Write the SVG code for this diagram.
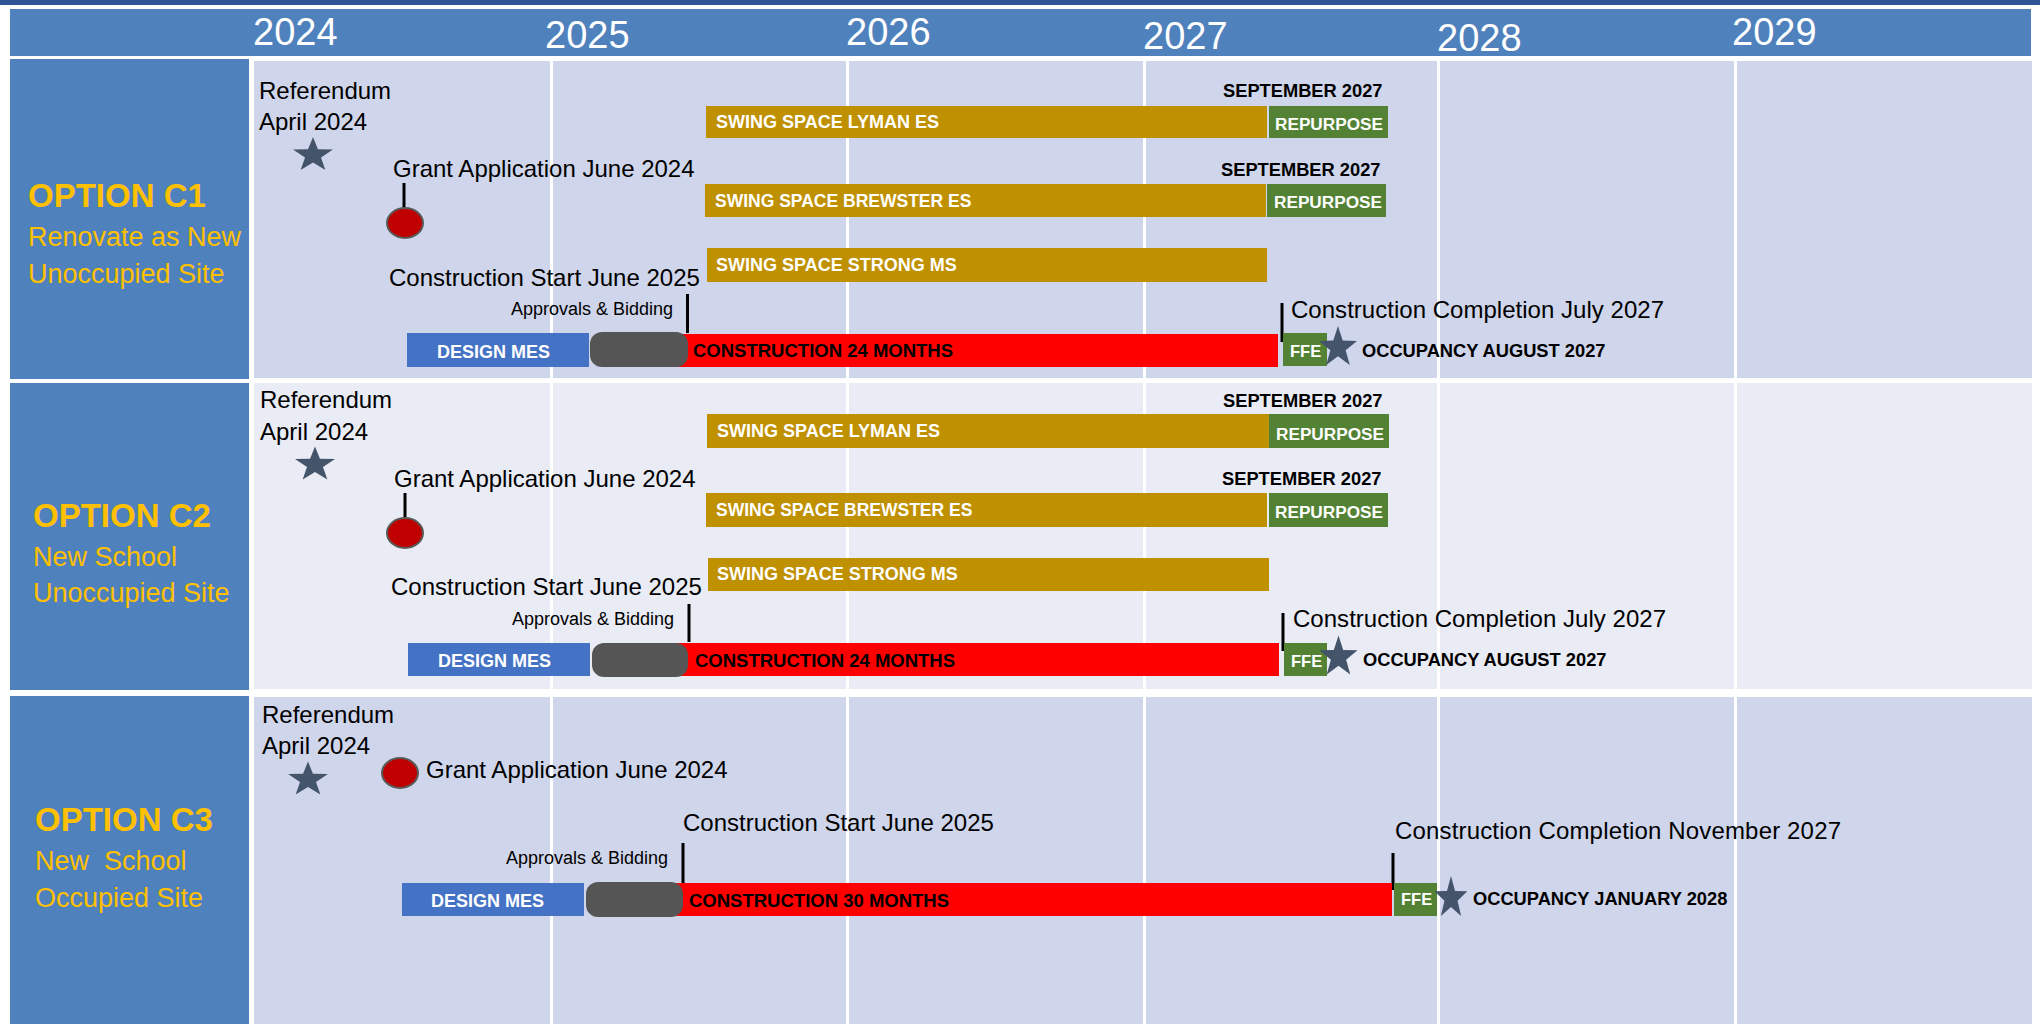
<svg xmlns="http://www.w3.org/2000/svg" width="2040" height="1024" viewBox="0 0 2040 1024">
<style>
text{font-family:"Liberation Sans",Arial,sans-serif}
.yr{font-size:38px;fill:#fff}
.opt{font-size:33px;font-weight:bold;fill:#FFC000}
.sub{font-size:27px;fill:#FFC000}
.lbl{font-size:24px;fill:#000}
.sm{font-size:18px;fill:#000}
.bw{font-size:18px;font-weight:bold;fill:#fff}
.rp{font-size:17.2px;font-weight:bold;fill:#fff}
.ffe{font-size:16.5px;font-weight:bold;fill:#fff}
.bk{font-size:18.3px;font-weight:bold;fill:#000}
.side{fill:#4F81BD}
.pa{fill:#CFD5EA}
.pb{fill:#E9EBF5}
.gold{fill:#BF9000}
.grn{fill:#548235}
.red{fill:#FF0000}
.des{fill:#4472C4}
.gray{fill:#555555}
.star{fill:#44546A}
.circ{fill:#C00000;stroke:#595959;stroke-width:2}
.tick{stroke:#000;stroke-width:3}
.grid{stroke:#fff;stroke-width:3}
</style>
<defs>
<path id="star" d="M0,-20 L4.70,-6.47 L19.02,-6.18 L7.61,2.47 L11.76,16.18 L0,8 L-11.76,16.18 L-7.61,2.47 L-19.02,-6.18 L-4.70,-6.47 Z"/>
</defs>
<rect x="0" y="0" width="2040" height="1024" fill="#fff"/>
<rect x="0" y="0" width="2040" height="5" fill="#2F5597"/>
<g id="header">
<rect x="10" y="9" width="2021" height="47" class="side"/>
<text class="yr" x="253" y="45">2024</text>
<text class="yr" x="545" y="48">2025</text>
<text class="yr" x="846" y="45">2026</text>
<text class="yr" x="1143" y="49">2027</text>
<text class="yr" x="1437" y="51">2028</text>
<text class="yr" x="1732" y="45">2029</text>
</g>
<g id="panels">
<rect x="254" y="61" width="1778" height="317" class="pa"/>
<rect x="254" y="383" width="1778" height="306" class="pb"/>
<rect x="254" y="697" width="1778" height="327" class="pa"/>
<line class="grid" x1="551.5" y1="56" x2="551.5" y2="1024"/>
<line class="grid" x1="847.5" y1="56" x2="847.5" y2="1024"/>
<line class="grid" x1="1144.5" y1="56" x2="1144.5" y2="1024"/>
<line class="grid" x1="1438.5" y1="56" x2="1438.5" y2="1024"/>
<line class="grid" x1="1735.5" y1="56" x2="1735.5" y2="1024"/>
</g>
<g id="option-c1">
<rect x="10" y="59" width="239" height="320" class="side"/>
<text class="opt" x="28" y="207">OPTION C1</text>
<text class="sub" x="28" y="246">Renovate as New</text>
<text class="sub" x="28" y="283">Unoccupied Site</text>
</g>
<g id="option-c2">
<rect x="10" y="383" width="239" height="307" class="side"/>
<text class="opt" x="33" y="527">OPTION C2</text>
<text class="sub" x="33" y="566">New School</text>
<text class="sub" x="33" y="602">Unoccupied Site</text>
</g>
<g id="option-c3">
<rect x="10" y="696" width="239" height="328" class="side"/>
<text class="opt" x="35" y="831">OPTION C3</text>
<text class="sub" x="35" y="870" xml:space="preserve">New  School</text>
<text class="sub" x="35" y="907">Occupied Site</text>
</g>
<g id="connectors">
<line class="tick" x1="404" y1="183" x2="404" y2="209"/>
<line class="tick" x1="687.5" y1="294" x2="687.5" y2="333"/>
<line class="tick" x1="1282" y1="303" x2="1282" y2="342"/>
<line class="tick" x1="405" y1="493" x2="405" y2="519"/>
<line class="tick" x1="689" y1="604" x2="689" y2="642"/>
<line class="tick" x1="1283" y1="613" x2="1283" y2="651"/>
<line class="tick" x1="683" y1="843" x2="683" y2="883"/>
<line class="tick" x1="1393" y1="853" x2="1393" y2="890"/>
</g>
<g id="row1">
<g id="r1-referendum">
<text class="lbl" x="259" y="99">Referendum</text>
<text class="lbl" x="259" y="130">April 2024</text>
<use href="#star" class="star" transform="translate(313,155.2) scale(1.05,0.91)"/>
</g>
<g id="r1-grant">
<text class="lbl" x="393" y="177">Grant Application June 2024</text>
<ellipse class="circ" cx="405" cy="223" rx="18" ry="15"/>
</g>
<g id="r1-lyman">
<rect x="706" y="106" width="561" height="32" class="gold"/>
<text class="bw" x="716" y="128">SWING SPACE LYMAN ES</text>
<rect x="1269" y="106" width="119" height="32" class="grn"/>
<text class="rp" x="1275" y="130">REPURPOSE</text>
<text class="bk" x="1223" y="97">SEPTEMBER 2027</text>
</g>
<g id="r1-brewster">
<rect x="705" y="184" width="561" height="33" class="gold"/>
<text class="bw" x="715" y="207" style="font-size:17.5px">SWING SPACE BREWSTER ES</text>
<rect x="1267" y="184" width="119" height="33" class="grn"/>
<text class="rp" x="1274" y="208">REPURPOSE</text>
<text class="bk" x="1221" y="176">SEPTEMBER 2027</text>
</g>
<g id="r1-strong">
<rect x="707" y="248" width="560" height="34" class="gold"/>
<text class="bw" x="716" y="271">SWING SPACE STRONG MS</text>
</g>
<g id="r1-schedule">
<text class="lbl" x="389" y="286">Construction Start June 2025</text>
<text class="sm" x="511" y="315">Approvals &amp; Bidding</text>
<rect x="407" y="333" width="182" height="34" class="des"/>
<text class="bw" x="437" y="358">DESIGN MES</text>
<rect x="668" y="334" width="610" height="33" class="red"/>
<rect x="590" y="332" width="98" height="35" rx="12" class="gray"/>
<text class="bk" x="693" y="357" style="font-size:18.5px">CONSTRUCTION 24 MONTHS</text>
<rect x="1283" y="333" width="44" height="33" class="grn"/>
<text class="ffe" x="1290" y="357">FFE</text>
<text class="lbl" x="1291" y="318" textLength="373">Construction Completion July 2027</text>
<use href="#star" class="star" transform="translate(1338,347.6) scale(1.0,1.08)"/>
<text class="bk" x="1362" y="357">OCCUPANCY AUGUST 2027</text>
</g>
</g>
<g id="row2">
<g id="r2-referendum">
<text class="lbl" x="260" y="408">Referendum</text>
<text class="lbl" x="260" y="440">April 2024</text>
<use href="#star" class="star" transform="translate(315,464.7) scale(1.05,0.91)"/>
</g>
<g id="r2-grant">
<text class="lbl" x="394" y="487">Grant Application June 2024</text>
<ellipse class="circ" cx="405" cy="533" rx="18" ry="15"/>
</g>
<g id="r2-lyman">
<rect x="707" y="414" width="562" height="34" class="gold"/>
<text class="bw" x="717" y="437">SWING SPACE LYMAN ES</text>
<rect x="1269" y="414" width="120" height="34" class="grn"/>
<text class="rp" x="1276" y="440">REPURPOSE</text>
<text class="bk" x="1223" y="407">SEPTEMBER 2027</text>
</g>
<g id="r2-brewster">
<rect x="706" y="493" width="561" height="34" class="gold"/>
<text class="bw" x="716" y="516" style="font-size:17.5px">SWING SPACE BREWSTER ES</text>
<rect x="1269" y="493" width="119" height="34" class="grn"/>
<text class="rp" x="1275" y="518">REPURPOSE</text>
<text class="bk" x="1222" y="485">SEPTEMBER 2027</text>
</g>
<g id="r2-strong">
<rect x="708" y="558" width="561" height="33" class="gold"/>
<text class="bw" x="717" y="580">SWING SPACE STRONG MS</text>
</g>
<g id="r2-schedule">
<text class="lbl" x="391" y="595">Construction Start June 2025</text>
<text class="sm" x="512" y="625">Approvals &amp; Bidding</text>
<rect x="408" y="643" width="182" height="33" class="des"/>
<text class="bw" x="438" y="667">DESIGN MES</text>
<rect x="668" y="643" width="611" height="33" class="red"/>
<rect x="592" y="643" width="96" height="34" rx="12" class="gray"/>
<text class="bk" x="695" y="667" style="font-size:18.5px">CONSTRUCTION 24 MONTHS</text>
<rect x="1284" y="643" width="43" height="33" class="grn"/>
<text class="ffe" x="1291" y="667">FFE</text>
<text class="lbl" x="1293" y="627" textLength="373">Construction Completion July 2027</text>
<use href="#star" class="star" transform="translate(1338.5,657) scale(1.0,1.08)"/>
<text class="bk" x="1363" y="666">OCCUPANCY AUGUST 2027</text>
</g>
</g>
<g id="row3">
<g id="r3-referendum">
<text class="lbl" x="262" y="723">Referendum</text>
<text class="lbl" x="262" y="754">April 2024</text>
<use href="#star" class="star" transform="translate(308,779.7) scale(1.05,0.91)"/>
</g>
<g id="r3-grant">
<ellipse class="circ" cx="400" cy="773" rx="18" ry="15"/>
<text class="lbl" x="426" y="778">Grant Application June 2024</text>
</g>
<g id="r3-schedule">
<text class="lbl" x="683" y="831">Construction Start June 2025</text>
<text class="sm" x="506" y="864">Approvals &amp; Bidding</text>
<rect x="402" y="883" width="182" height="33" class="des"/>
<text class="bw" x="431" y="907">DESIGN MES</text>
<rect x="665" y="883" width="727" height="33" class="red"/>
<rect x="586" y="882" width="97" height="35" rx="12" class="gray"/>
<text class="bk" x="689" y="907" style="font-size:18.5px">CONSTRUCTION 30 MONTHS</text>
<rect x="1394" y="883" width="43" height="33" class="grn"/>
<text class="ffe" x="1401" y="905">FFE</text>
<text class="lbl" x="1395" y="839" textLength="446">Construction Completion November 2027</text>
<use href="#star" class="star" transform="translate(1451,898.1) scale(0.86,1.1)"/>
<text class="bk" x="1473" y="905">OCCUPANCY JANUARY 2028</text>
</g>
</g>
</svg>
